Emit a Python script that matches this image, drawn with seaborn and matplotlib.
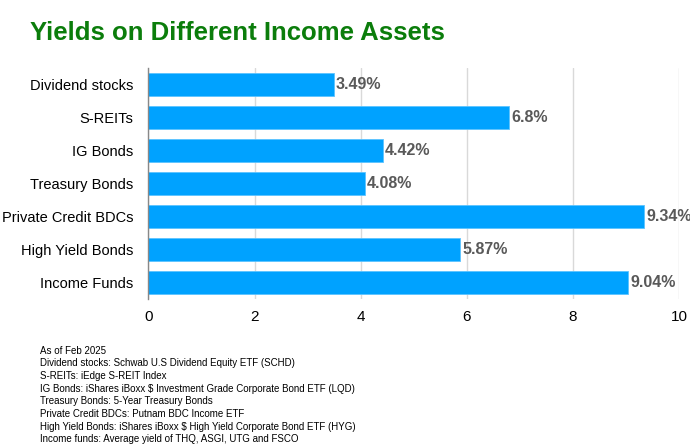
import matplotlib
matplotlib.use("Agg")
import matplotlib.pyplot as plt
import seaborn as sns
import pandas as pd

# chart data
assets = ["Dividend stocks", "S-REITs", "IG Bonds", "Treasury Bonds",
          "Private Credit BDCs", "High Yield Bonds", "Income Funds"]
yields = [3.49, 6.8, 4.42, 4.08, 9.34, 5.87, 9.04]
value_labels = ["3.49%", "6.8%", "4.42%", "4.08%", "9.34%", "5.87%", "9.04%"]
x_ticks = [0, 2, 4, 6, 8, 10]

footnotes = [
    "As of Feb 2025",
    "Dividend stocks: Schwab U.S Dividend Equity ETF (SCHD)",
    "S-REITs: iEdge S-REIT Index",
    "IG Bonds: iShares iBoxx $ Investment Grade Corporate Bond ETF (LQD)",
    "Treasury Bonds: 5-Year Treasury Bonds",
    "Private Credit BDCs: Putnam BDC Income ETF",
    "High Yield Bonds: iShares iBoxx $ High Yield Corporate Bond ETF (HYG)",
    "Income funds: Average yield of THQ, ASGI, UTG and FSCO",
]

df = pd.DataFrame({"Asset": assets, "Yield": yields})

sns.set_theme(style="white")
plt.rcParams["font.family"] = ["Liberation Sans", "DejaVu Sans"]

fig = plt.figure(figsize=(6.9, 4.48), dpi=100)
ax = fig.add_axes([0.215, 0.332, 0.7695, 0.517])

sns.barplot(data=df, x="Yield", y="Asset", color="#00A2FF", width=0.705,
            saturation=1, edgecolor="#5cc3ff", linewidth=0.6, ax=ax, zorder=3)

ax.set_xlim(0, 10)
ax.set_xticks(x_ticks)
ax.set_xticklabels([str(t) for t in x_ticks])
ax.tick_params(axis="y", labelsize=10.5, pad=11, length=0, labelcolor="black")
ax.tick_params(axis="x", labelsize=11, pad=8, length=0, labelcolor="black")
ax.set_xlabel("")
ax.set_ylabel("")
ax.grid(axis="x", color="#d9d9d9", linewidth=1, zorder=0)
for side in ["top", "right", "bottom"]:
    ax.spines[side].set_visible(False)
ax.spines["left"].set_color("#888888")
ax.spines["left"].set_linewidth(1)
ax.spines["left"].set_zorder(4)

for i, (v, lab) in enumerate(zip(yields, value_labels)):
    ax.text(v + 0.04, i, lab, va="center", ha="left", fontsize=11.5,
            fontweight="bold", color="#595959", zorder=5, clip_on=False)

fig.text(0.043, 0.926, "Yields on Different Income Assets", fontsize=18.5,
         fontweight="heavy", color="#0b7d0b", va="center", ha="left")

fig.text(0.058, 0.228, "\n".join(footnotes), fontsize=7, color="black",
         va="top", ha="left", linespacing=1.33)

fig.savefig("out.png", dpi=100)
